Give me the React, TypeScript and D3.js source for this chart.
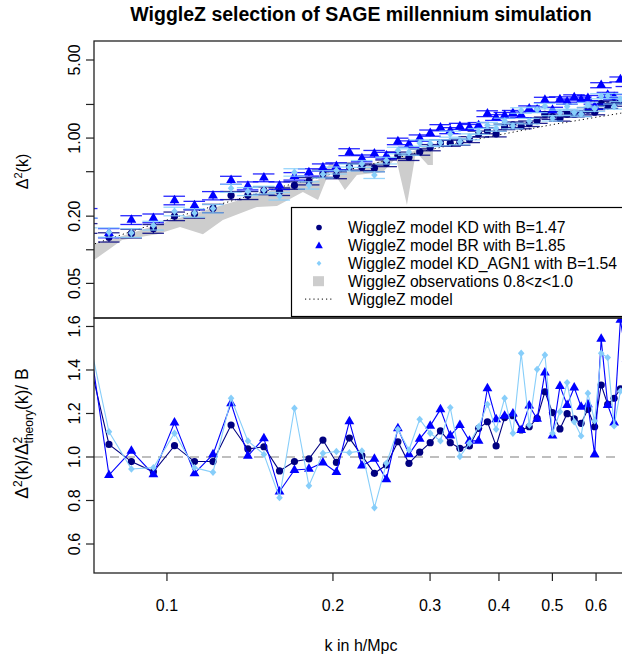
import React from "react";
import * as d3 from "d3";

// k bins (h/Mpc) of the SAGE mock power spectra
const kValues = [
  0.0716, 0.0785, 0.0862, 0.0945, 0.1032, 0.1122, 0.1212, 0.1307, 0.1402, 0.1499,
  0.16, 0.1703, 0.1809, 0.1918, 0.2029, 0.2142, 0.2257, 0.2378, 0.25, 0.2623,
  0.2747, 0.2873, 0.3002, 0.3133, 0.3264, 0.3398, 0.3536, 0.3674, 0.3812, 0.3953,
  0.4096, 0.424, 0.4389, 0.4539, 0.4691, 0.4846, 0.5002, 0.516, 0.5317, 0.5477,
  0.5637, 0.5799, 0.5964, 0.613, 0.6299, 0.647, 0.6642, 0.6816,
];

// Δ²(k) / Δ²_theory(k) / B for each galaxy model
const ratioKD = [
  1.487, 1.058, 0.979, 0.932, 1.052, 0.979, 0.979, 1.147, 1.037, 1.047,
  0.936, 0.979, 0.991, 1.078, 0.975, 1.087, 1.006, 0.925, 0.963, 1.07,
  0.971, 1.022, 1.066, 1.12, 1.066, 1.04, 1.051, 1.132, 1.162, 1.051,
  1.181, 1.19, 1.124, 1.139, 1.178, 1.3, 1.204, 1.129, 1.199, 1.175,
  1.155, 1.219, 1.139, 1.331, 1.242, 1.27, 1.313, 1.28,
];
const ratioBR = [
  1.611, 0.917, 1.028, 0.92, 1.158, 0.925, 1.012, 1.247, 1.005, 1.086,
  0.841, 0.94, 0.945, 0.974, 0.93, 1.164, 0.96, 0.991, 0.897, 1.132,
  1.012, 1.083, 1.143, 1.219, 1.098, 1.147, 1.074, 1.074, 1.316, 1.173,
  1.189, 1.199, 1.124, 1.236, 1.175, 1.388, 1.098, 1.326, 1.239, 1.319,
  1.231, 1.242, 1.012, 1.543, 1.239, 1.158, 1.63, 1.45,
];
const ratioAGN1 = [
  1.591, 1.116, 0.945, 0.951, 1.109, 0.951, 0.93, 1.27, 1.074, 1.012,
  0.813, 1.224, 0.868, 1.017, 1.025, 1.02, 1.028, 0.767, 0.971, 1.127,
  1.032, 1.173, 1.109, 1.074, 1.227, 1.002, 1.063, 1.139, 1.242, 1.127,
  1.27, 1.109, 1.477, 1.147, 1.403, 1.469, 1.109, 1.208, 1.342, 1.162,
  1.097, 1.293, 1.166, 1.477, 1.457, 1.143, 1.303, 1.35,
];

// fractional uncertainty of each mock Δ²(k)
const relErr = [
  0.1, 0.095, 0.09, 0.09, 0.088, 0.086, 0.085, 0.083, 0.082, 0.08,
  0.078, 0.077, 0.075, 0.074, 0.072, 0.071, 0.07, 0.069, 0.068, 0.067,
  0.066, 0.065, 0.064, 0.063, 0.062, 0.062, 0.061, 0.06, 0.06, 0.059,
  0.058, 0.058, 0.057, 0.057, 0.056, 0.056, 0.055, 0.055, 0.054, 0.054,
  0.053, 0.053, 0.053, 0.052, 0.052, 0.052, 0.051, 0.051,
];
const kHalfWidth = 0.045; // horizontal bar half-width, fraction of k

// WiggleZ model Δ²(k) at the same k bins, and its bias
const wigglezModel = [
  0.107, 0.125, 0.146, 0.169, 0.194, 0.219, 0.245, 0.273, 0.302, 0.33,
  0.362, 0.393, 0.424, 0.455, 0.488, 0.522, 0.557, 0.593, 0.631, 0.67,
  0.709, 0.75, 0.787, 0.825, 0.862, 0.902, 0.942, 0.981, 1.02, 1.057,
  1.092, 1.129, 1.166, 1.205, 1.243, 1.282, 1.32, 1.356, 1.39, 1.422,
  1.458, 1.491, 1.529, 1.564, 1.596, 1.633, 1.668, 1.705,
];
const wigglezBias = 1.5;

// WiggleZ observations 0.8<z<1.0: lower / upper envelope
const obsK = [
  0.0737, 0.0788, 0.0829, 0.0959, 0.1056, 0.1162, 0.1263, 0.1456, 0.1583, 0.1764,
  0.1879, 0.1983, 0.2102, 0.221, 0.2465, 0.2602, 0.2724, 0.2828, 0.2973, 0.3036,
];
const obsLow = [
  0.081, 0.102, 0.122, 0.138, 0.16, 0.138, 0.185, 0.242, 0.247, 0.329,
  0.279, 0.54, 0.343, 0.467, 0.497, 0.663, 0.252, 0.75, 0.574, 0.574,
];
const obsHigh = [
  0.113, 0.122, 0.133, 0.167, 0.193, 0.222, 0.252, 0.309, 0.35, 0.404,
  0.421, 0.611, 0.497, 0.518, 0.636, 0.691, 0.72, 0.782, 0.867, 0.867,
];

const biasKD = 1.47;
const biasBR = 1.85;
const biasAGN1 = 1.54;

const kTicks = [0.1, 0.2, 0.3, 0.4, 0.5, 0.6];
const deltaTicks = [0.05, 0.1, 0.2, 0.5, 1, 2, 5];
const deltaTickLabels = ["0.05", "", "0.20", "", "1.00", "", "5.00"];
const ratioTicks = [0.6, 0.8, 1.0, 1.2, 1.4, 1.6];

const legendLabels = [
  "WiggleZ model KD with B=1.47",
  "WiggleZ model BR with B=1.85",
  "WiggleZ model KD_AGN1 with B=1.54",
  "WiggleZ observations 0.8<z<1.0",
  "WiggleZ model",
];

const NAVY = "#000080";
const BLUE = "#0000ff";
const LIGHT = "#87cefa";
const GREY = "#cdcdcd";

const W = 622;
const H = 661;
const left = 94;
const right = 628;
const topY0 = 41;
const midY = 318;
const botY1 = 573;
const FONT = "'Liberation Sans', Arial, Helvetica, sans-serif";

type Shape = "circle" | "triangle" | "diamond";

function marker(shape: Shape, x: number, y: number, color: string, s = 1, key?: string) {
  if (shape === "circle") return <circle key={key} cx={x} cy={y} r={3.6 * s} fill={color} />;
  if (shape === "triangle") {
    const hw = 4.9 * s;
    const d = `M${x},${y - 5.6 * s}L${x + hw},${y + 2.9 * s}L${x - hw},${y + 2.9 * s}Z`;
    return <path key={key} d={d} fill={color} />;
  }
  const a = 3.3 * s;
  const b = 3.7 * s;
  const d = `M${x},${y - b}L${x + a},${y}L${x},${y + b}L${x - a},${y}Z`;
  return <path key={key} d={d} fill={color} />;
}

export default function App() {
  const x = d3.scaleLog().domain([0.07374, 0.6856]).range([left, right]);
  const yTop = d3.scaleLog().domain([0.0245, 7.397]).range([midY, topY0]);
  const yBot = d3.scaleLinear().domain([0.4667, 1.639]).range([botY1, midY]);

  const series = [
    { name: "KD", ratio: ratioKD, bias: biasKD, color: NAVY, shape: "circle" as Shape },
    { name: "BR", ratio: ratioBR, bias: biasBR, color: BLUE, shape: "triangle" as Shape },
    { name: "AGN1", ratio: ratioAGN1, bias: biasAGN1, color: LIGHT, shape: "diamond" as Shape },
  ];

  const obsArea = d3
    .area<number>()
    .x((_, i) => x(obsK[i]))
    .y0((_, i) => yTop(obsLow[i]))
    .y1((_, i) => yTop(obsHigh[i]));

  const modelPath = d3
    .line<number>()
    .x((_, i) => x(kValues[i]))
    .y((d) => yTop(d))(wigglezModel);

  const ratioLine = d3
    .line<number>()
    .x((_, i) => x(kValues[i]))
    .y((d) => yBot(d));

  return (
    <svg
      width={W}
      height={H}
      style={{ position: "absolute", left: 0, top: 0, background: "#fff" }}
      fontFamily={FONT}
    >
      <defs>
        <clipPath id="clipTop">
          <rect x={left} y={topY0} width={right - left} height={midY - topY0} />
        </clipPath>
        <clipPath id="clipBot">
          <rect x={left} y={midY} width={right - left} height={botY1 - midY} />
        </clipPath>
      </defs>
      <rect width={W} height={H} fill="#fff" />

      <text x={361} y={21} textAnchor="middle" fontWeight="bold" fontSize={19.5}>
        WiggleZ selection of SAGE millennium simulation
      </text>

      {/* upper panel: Δ²(k) */}
      <g clipPath="url(#clipTop)">
        <path d={obsArea(obsK.map((_, i) => i)) || ""} fill={GREY} stroke="none" />
        <path d={modelPath || ""} fill="none" stroke="#000" strokeWidth={1} strokeDasharray="1.2 3" />
        {series.map((s) => (
          <g key={s.name}>
            {kValues.map((k, i) => {
              const v = (s.ratio[i] * s.bias * wigglezModel[i]) / wigglezBias;
              const x0 = x(k * (1 - kHalfWidth));
              const x1 = x(k * (1 + kHalfWidth));
              const cx = x(k);
              const yu = yTop(v * (1 + relErr[i]));
              const yl = yTop(v * (1 - relErr[i]));
              return (
                <g key={i} stroke={s.color} strokeWidth={1.3} strokeOpacity={0.85}>
                  <line x1={x0} x2={x1} y1={yu} y2={yu} />
                  <line x1={x0} x2={x1} y1={yl} y2={yl} />
                  <line x1={cx} x2={cx} y1={yu} y2={yl} />
                </g>
              );
            })}
            {kValues.map((k, i) =>
              marker(
                s.shape,
                x(k),
                yTop((s.ratio[i] * s.bias * wigglezModel[i]) / wigglezBias),
                s.color,
                1,
                `m${i}`
              )
            )}
          </g>
        ))}
      </g>

      {/* legend */}
      <g>
        <rect x={291.5} y={207.5} width={360} height={109} fill="#fff" stroke="#000" strokeWidth={1.2} />
        {legendLabels.map((lab, i) => {
          const ly = 227.5 + i * 17.9;
          let sym: React.ReactNode = null;
          if (i === 0) sym = marker("circle", 319, ly, NAVY, 0.78);
          if (i === 1) sym = marker("triangle", 319, ly + 0.5, BLUE, 0.78);
          if (i === 2) sym = marker("diamond", 319, ly, LIGHT, 0.72);
          if (i === 3) sym = <rect x={313} y={ly - 5} width={11} height={10} fill={GREY} />;
          if (i === 4)
            sym = (
              <line x1={305} x2={333} y1={ly} y2={ly} stroke="#000" strokeWidth={1} strokeDasharray="1.2 3" />
            );
          return (
            <g key={i}>
              {sym}
              <text x={348} y={ly + 5.5} fontSize={15.7}>
                {lab}
              </text>
            </g>
          );
        })}
      </g>

      {/* lower panel: ratio */}
      <g clipPath="url(#clipBot)">
        <line
          x1={left}
          x2={right}
          y1={yBot(1)}
          y2={yBot(1)}
          stroke="#bebebe"
          strokeWidth={2}
          strokeDasharray="9 7"
        />
        {series.map((s) => (
          <g key={s.name}>
            <path d={ratioLine(s.ratio) || ""} fill="none" stroke={s.color} strokeWidth={1.1} />
            {kValues.map((k, i) => marker(s.shape, x(k), yBot(s.ratio[i]), s.color, 1, `r${i}`))}
          </g>
        ))}
      </g>

      {/* frames */}
      <rect x={left} y={topY0} width={right - left} height={midY - topY0} fill="none" stroke="#222" strokeWidth={1.3} />
      <rect x={left} y={midY} width={right - left} height={botY1 - midY} fill="none" stroke="#222" strokeWidth={1.3} />

      {/* upper y axis */}
      <g fontSize={16}>
        {deltaTicks.map((t, i) => (
          <g key={t}>
            <line x1={left - 8} x2={left} y1={yTop(t)} y2={yTop(t)} stroke="#222" strokeWidth={1.2} />
            {deltaTickLabels[i] && (
              <text transform={`translate(80,${yTop(t)}) rotate(-90)`} textAnchor="middle">
                {deltaTickLabels[i]}
              </text>
            )}
          </g>
        ))}
        <text transform={`translate(28,${(topY0 + midY) / 2 - 8}) rotate(-90)`} textAnchor="middle">
          Δ<tspan dy={-6} fontSize={11}>2</tspan>
          <tspan dy={6}>(k)</tspan>
        </text>
      </g>

      {/* lower y axis */}
      <g fontSize={16}>
        {ratioTicks.map((t) => (
          <g key={t}>
            <line x1={left - 8} x2={left} y1={yBot(t)} y2={yBot(t)} stroke="#222" strokeWidth={1.2} />
            <text transform={`translate(80,${yBot(t)}) rotate(-90)`} textAnchor="middle">
              {t.toFixed(1)}
            </text>
          </g>
        ))}
        <text
          transform={`translate(28,${(midY + botY1) / 2 - 12}) rotate(-90)`}
          textAnchor="middle"
          fontSize={17.5}
        >
          Δ<tspan dy={-6.5} fontSize={12}>2</tspan>
          <tspan dy={6.5}>(k)/Δ</tspan>
          <tspan dy={-6.5} fontSize={12}>2</tspan>
          <tspan dx={-6.7} dy={11} fontSize={12}>theory</tspan>
          <tspan dy={-4.5}>(k)/ B</tspan>
        </text>
      </g>

      {/* x axis */}
      <g fontSize={16}>
        {kTicks.map((t) => (
          <g key={t}>
            <line x1={x(t)} x2={x(t)} y1={botY1} y2={botY1 + 8} stroke="#222" strokeWidth={1.2} />
            <text x={x(t)} y={611} textAnchor="middle">
              {t}
            </text>
          </g>
        ))}
        <text x={361} y={651} textAnchor="middle">
          k in h/Mpc
        </text>
      </g>
    </svg>
  );
}
